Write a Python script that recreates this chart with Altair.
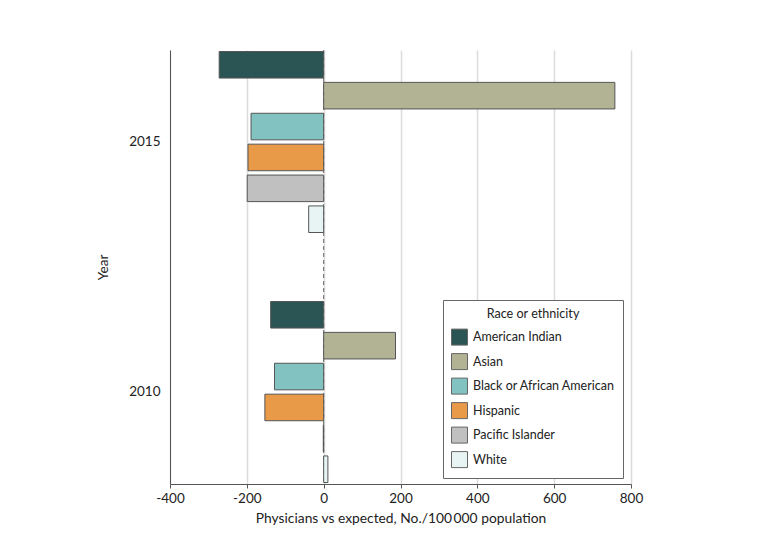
import altair as alt
import pandas as pd

years = ["2015", "2010"]
races = ["American Indian", "Asian", "Black or African American", "Hispanic", "Pacific Islander", "White"]
values_2015 = [-272, 758, -189, -197, -199, -39]
values_2010 = [-138, 187, -128, -153, -1, 11]
colors = ["#2a5554", "#b2b394", "#82c3c1", "#e89a48", "#c0c0c0", "#e8f4f4"]

rows = []
for y, vals in zip(years, [values_2015, values_2010]):
    for r, v in zip(races, vals):
        rows.append({"Year": y, "Race": r, "Value": v})
df = pd.DataFrame(rows)

FONT = "Lato"

bars = alt.Chart(df).mark_bar(stroke="#555555", strokeWidth=1).encode(
    x=alt.X("Value:Q",
            scale=alt.Scale(domain=[-400, 800], nice=False, zero=False),
            axis=alt.Axis(values=[-400, -200, 0, 200, 400, 600, 800],
                          labelExpr="'' + datum.value", labelFlush=False,
                          title="Physicians vs expected, No./100\u2009000 population",
                          grid=True, gridColor="#dcdcdc", gridWidth=1.5,
                          domainColor="#555555", tickColor="#555555", tickSize=4,
                          labelFontSize=13.5, titleFontSize=13.8, labelPadding=3,
                          titlePadding=7, labelColor="#222222", titleColor="#222222",
                          labelFont=FONT, titleFont=FONT, titleFontWeight="normal")),
    y=alt.Y("Year:N", sort=years,
            scale=alt.Scale(paddingInner=0.276, paddingOuter=0.006),
            axis=alt.Axis(title="Year", ticks=False, domainColor="#555555",
                          labelFontSize=13.5, titleFontSize=13.5, labelPadding=10,
                          titlePadding=18, labelColor="#222222", titleColor="#222222",
                          labelFont=FONT, titleFont=FONT, titleFontWeight="normal",
                          grid=False)),
    yOffset=alt.YOffset("Race:N", sort=races,
                        scale=alt.Scale(paddingInner=0.14, paddingOuter=0)),
    fill=alt.Fill("Race:N", sort=races,
                  scale=alt.Scale(domain=races, range=colors),
                  legend=alt.Legend(title="Race or ethnicity", orient="none",
                                    legendX=273, legendY=250,
                                    fillColor="white", strokeColor="#666666",
                                    padding=8, rowPadding=3.5, titlePadding=8,
                                    titleAnchor="middle", titleFontSize=12.6,
                                    titleFontWeight="normal", titleFont=FONT,
                                    labelFont=FONT, labelFontSize=12.5,
                                    labelColor="#222222", titleColor="#222222",
                                    symbolType="square", symbolSize=256,
                                    symbolStrokeColor="#666666", symbolStrokeWidth=1,
                                    labelOffset=5)),
)

zero_df = pd.DataFrame({"x": [0]})
zero = alt.Chart(zero_df).mark_rule(color="#666666", strokeDash=[4, 3], strokeWidth=1).encode(
    x=alt.X("x:Q")
)

chart = alt.layer(zero, bars).properties(
    width=461, height=434,
    autosize=alt.AutoSizeParams(type="none"),
    padding={"left": 162, "top": 42, "right": 40, "bottom": 60},
).configure_view(stroke=None)

chart.save("out.html", embed_options={"renderer": "svg", "actions": False})
